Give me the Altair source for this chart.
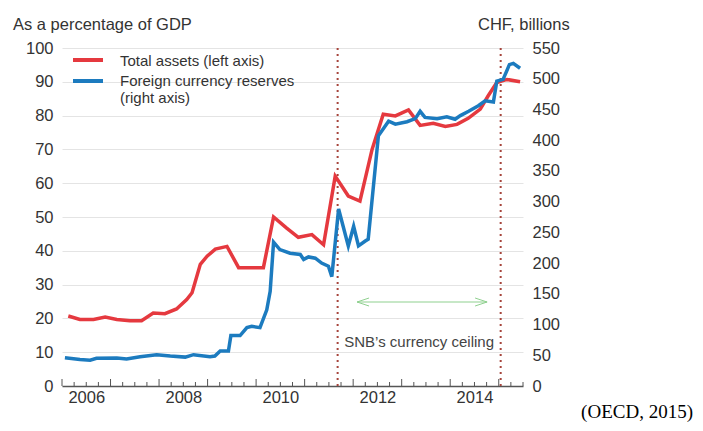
import altair as alt
import pandas as pd
import numpy as np

# ---- data ----
red_years = [2006.13, 2006.37, 2006.65, 2006.89, 2007.13, 2007.40, 2007.64, 2007.88, 2008.12, 2008.36,
             2008.57, 2008.68, 2008.85, 2008.99, 2009.16, 2009.40, 2009.64, 2010.15, 2010.36, 2010.63,
             2010.87, 2011.15, 2011.39, 2011.63, 2011.90, 2012.14, 2012.39, 2012.62, 2012.87, 2013.14,
             2013.38, 2013.65, 2013.90, 2014.14, 2014.37, 2014.62, 2014.78, 2014.96, 2015.17, 2015.44]
red_values = [20.7, 19.7, 19.7, 20.4, 19.7, 19.3, 19.3, 21.6, 21.4, 22.8,
              25.6, 27.6, 36, 38.4, 40.5, 41.3, 35, 35, 50, 46.7,
              44, 44.8, 41.8, 62.1, 56.2, 54.7, 70, 80.4, 79.9, 81.7,
              77.1, 77.7, 76.8, 77.4, 79.2, 81.9, 85.8, 89.8, 90.7, 90]

blue_years = [2006.06, 2006.37, 2006.58, 2006.71, 2007.13, 2007.33, 2007.61, 2007.95, 2008.23, 2008.54,
              2008.71, 2009.05, 2009.15, 2009.26, 2009.43, 2009.48, 2009.67, 2009.81, 2009.91, 2010.08,
              2010.22, 2010.29, 2010.36, 2010.49, 2010.70, 2010.91, 2010.98, 2011.08, 2011.22, 2011.35,
              2011.49, 2011.56, 2011.70, 2011.90, 2012.01, 2012.11, 2012.25, 2012.31, 2012.52, 2012.73,
              2012.87, 2013.11, 2013.28, 2013.38, 2013.48, 2013.73, 2013.93, 2014.10, 2014.21, 2014.38,
              2014.58, 2014.72, 2014.89, 2014.96, 2015.09, 2015.22, 2015.30, 2015.44]
blue_values = [46, 43, 42, 45, 45.5, 44, 47.6, 51, 48.7, 47,
               51, 47.6, 48.7, 57, 57, 82, 82, 95, 97, 95,
               124, 154, 234, 222, 216, 214, 206, 210, 208, 200,
               195, 178, 288, 228, 260, 228, 236, 239, 407, 431,
               426, 430, 435, 447, 437, 435, 438, 434, 440, 447,
               456, 464, 462, 496, 499, 523, 525, 517]

ceiling_dates = [2011.68, 2015.04]
arrow_span = [2012.08, 2014.76]
x_label_years = [2006, 2008, 2010, 2012, 2014]
left_ticks = list(range(0, 101, 10))
right_ticks = list(range(0, 551, 50))
legend_labels = ["Total assets (left axis)", "Foreign currency reserves", "(right axis)"]
annotation = "SNB\u2019s currency ceiling"
left_title = "As a percentage of GDP"
right_title = "CHF, billions"
source = "(OECD, 2015)"

# ---- styling ----
W, H = 461, 338
RED = "#e5393f"
BLUE = "#1c7bbf"
TXT = "#333333"
FONT = "Liberation Sans"

red_df = pd.DataFrame({"year": red_years, "v": red_values})
blue_df = pd.DataFrame({"year": blue_years, "v": blue_values})
ceil_df = pd.DataFrame({"year": ceiling_dates})
major_df = pd.DataFrame({"year": list(range(2006, 2016))})
minor_df = pd.DataFrame({"year": [y + q for y in range(2006, 2016) for q in (0.25, 0.5, 0.75) if y + q <= 2015.5]})
arrow_df = pd.DataFrame({"year": [arrow_span[0]], "end": [arrow_span[1]]})
arrowL_df = pd.DataFrame({"year": [arrow_span[0]]})
arrowR_df = pd.DataFrame({"year": [arrow_span[1]]})
ann_df = pd.DataFrame({"year": [float(np.mean(ceiling_dates))]})
dummy = pd.DataFrame({"a": [0]})

xscale = alt.Scale(domain=[2006, 2015.5], nice=False, zero=False)
xaxis = alt.Axis(values=[y + 0.5 for y in x_label_years], labelExpr="floor(datum.value)",
                 ticks=False, grid=False, domain=True, domainColor="#555555", domainWidth=1.5,
                 labelFontSize=16.5, labelColor=TXT, labelPadding=3, title=None, labelFont=FONT)
X = alt.X("year:Q", scale=xscale, axis=xaxis)

ceil_layer = alt.Chart(ceil_df).mark_rule(color="#a6453c", strokeDash=[2, 4], strokeWidth=2).encode(x=X)

major_ticks = alt.Chart(major_df).mark_rule(color="#555555", strokeWidth=1).encode(
    x=X, y=alt.value(H), y2=alt.value(H - 7))
minor_ticks = alt.Chart(minor_df).mark_rule(color="#555555", strokeWidth=1).encode(
    x=X, y=alt.value(H), y2=alt.value(H - 4))

red_layer = alt.Chart(red_df).mark_line(color=RED, strokeWidth=3.5).encode(
    x=X,
    y=alt.Y("v:Q", scale=alt.Scale(domain=[0, 100], nice=False),
            axis=alt.Axis(orient="left", values=left_ticks, grid=True, gridColor="#e4e4e4", gridWidth=1,
                          domain=False, ticks=False, labelPadding=9, title=None,
                          labelFontSize=16.5, labelColor=TXT, labelFont=FONT)))

blue_layer = alt.Chart(blue_df).mark_line(color=BLUE, strokeWidth=3.5).encode(
    x=X,
    y=alt.Y("v:Q", scale=alt.Scale(domain=[0, 550], nice=False),
            axis=alt.Axis(orient="right", values=right_ticks, grid=False,
                          domain=False, ticks=False, labelPadding=9, title=None,
                          labelFontSize=16.5, labelColor=TXT, labelFont=FONT)))

arrow_line = alt.Chart(arrow_df).mark_rule(color="#8fd08f", strokeWidth=1).encode(
    x=X, x2="end:Q", y=alt.value(254))
arrow_left = alt.Chart(arrowL_df).mark_point(shape="M3,-1L0,0L3,1", size=64, filled=False,
                                             color="#8fd08f", strokeWidth=1, opacity=1).encode(
    x=X, y=alt.value(254))
arrow_right = alt.Chart(arrowR_df).mark_point(shape="M-3,-1L0,0L-3,1", size=64, filled=False,
                                              color="#8fd08f", strokeWidth=1, opacity=1).encode(
    x=X, y=alt.value(254))
ann = alt.Chart(ann_df).mark_text(font=FONT, fontSize=15, color="#444444", align="center",
                                  baseline="middle").encode(
    x=X, y=alt.value(294), text=alt.value(annotation))

def txt(s, x, y, size=16.5, align="left", baseline="alphabetic", font=FONT, color=TXT):
    return alt.Chart(dummy).mark_text(font=font, fontSize=size, color=color, align=align,
                                      baseline=baseline).encode(
        x=alt.value(x), y=alt.value(y), text=alt.value(s))

leg_red = alt.Chart(dummy).mark_rule(color=RED, strokeWidth=4).encode(
    x=alt.value(11), x2=alt.value(41), y=alt.value(12))
leg_blue = alt.Chart(dummy).mark_rule(color=BLUE, strokeWidth=4).encode(
    x=alt.value(11), x2=alt.value(41), y=alt.value(33))

layers = [
    ceil_layer, major_ticks, minor_ticks, red_layer, blue_layer,
    arrow_line, arrow_left, arrow_right, ann,
    leg_red, leg_blue,
    txt(legend_labels[0], 58, 13, size=15, baseline="middle"),
    txt(legend_labels[1], 58, 33, size=15, baseline="middle"),
    txt(legend_labels[2], 58, 50, size=15, baseline="middle"),
    txt(left_title, -49, -18),
    txt(right_title, 416, -18),
    txt(source, 631, 370, size=19, align="right", baseline="alphabetic",
        font="Liberation Serif", color="#000000"),
]

chart = alt.layer(*layers).resolve_scale(y="independent").properties(
    width=W, height=H,
    autosize=alt.AutoSizeParams(type="none"),
    padding={"left": 54, "top": 40, "right": 172, "bottom": 37},
    background="white",
).configure_view(stroke=None)

chart.save("out.html", embed_options={"renderer": "svg", "actions": False})
